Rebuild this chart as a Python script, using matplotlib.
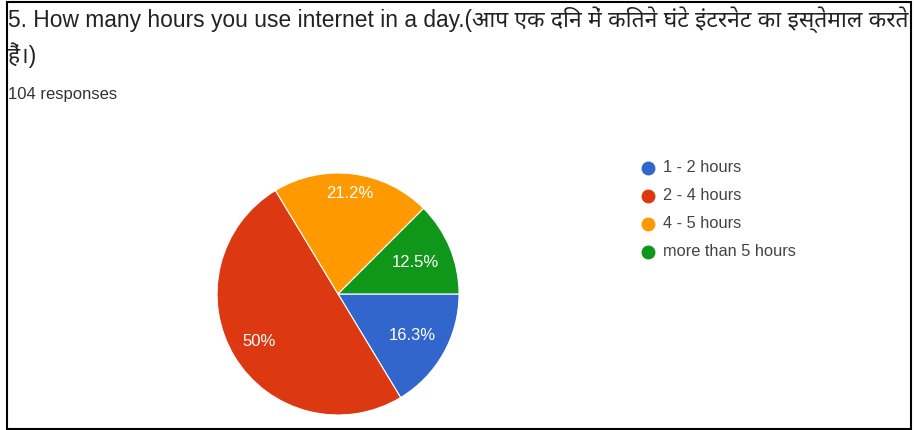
import matplotlib
matplotlib.use("Agg")
import matplotlib.pyplot as plt
from matplotlib.patches import Rectangle
import numpy as np

# survey answers (104 responses)
categories = ["1 - 2 hours", "2 - 4 hours", "4 - 5 hours", "more than 5 hours"]
counts = [17, 52, 22, 13]
colors = ["#3366cc", "#dc3912", "#ff9900", "#109618"]
label_dist = [0.70, 0.76, 0.84, 0.69]

title_line1 = ("5. How many hours you use internet in a day.(आप एक दिन में कितने घंटे "
               "इंटरनेट का इस्तेमाल करते")
title_line2 = "हैं।)"
subtitle = "104 responses"

fams = ["Liberation Sans", "Noto Sans", "DejaVu Sans"]

W, H = 915, 430
fig = plt.figure(figsize=(W / 100, H / 100), dpi=100)
fig.patch.set_facecolor("white")

fig.text(8 / W, 1 - 27 / H, title_line1, family=fams, fontsize=16.4,
         color="#222222", va="baseline", ha="left")
fig.text(8 / W, 1 - 63 / H, title_line2, family=fams, fontsize=16.4,
         color="#222222", va="baseline", ha="left")
fig.text(8 / W, 1 - 99 / H, subtitle, family=fams, fontsize=12,
         color="#333333", va="baseline", ha="left")

ax = fig.add_axes([0.2372, 0.0349, 0.2645, 0.5628])
wedges, _ = ax.pie(counts, colors=colors, startangle=0, counterclock=False,
                   wedgeprops=dict(edgecolor="white", linewidth=0.8))
ax.set_xlim(-1, 1)
ax.set_ylim(-1, 1)
ax.set_aspect("equal")

total = sum(counts)
for w, c, d in zip(wedges, counts, label_dist):
    mid = np.deg2rad((w.theta1 + w.theta2) / 2)
    pct = 100 * c / total
    txt = f"{pct:.1f}%".replace(".0%", "%")
    ax.text(d * np.cos(mid), d * np.sin(mid), txt, ha="center", va="center",
            color="white", fontsize=12, family=fams)

# legend as dots + labels
for i, (name, col) in enumerate(zip(categories, colors)):
    y = 1 - (168 + 28 * i) / H
    fig.lines.append(plt.Line2D([648 / W], [y], marker="o", markersize=9,
                                color=col, transform=fig.transFigure, figure=fig))
    fig.text(663 / W, y, name, family=fams, fontsize=11.8, color="#444444",
             va="center", ha="left")

# outer frame
fig.patches.append(Rectangle((7 / W, 1 / H), 904 / W, 427 / H,
                             transform=fig.transFigure, fill=False,
                             edgecolor="black", linewidth=1.5, figure=fig))

fig.savefig("out.png", dpi=100, facecolor="white")
